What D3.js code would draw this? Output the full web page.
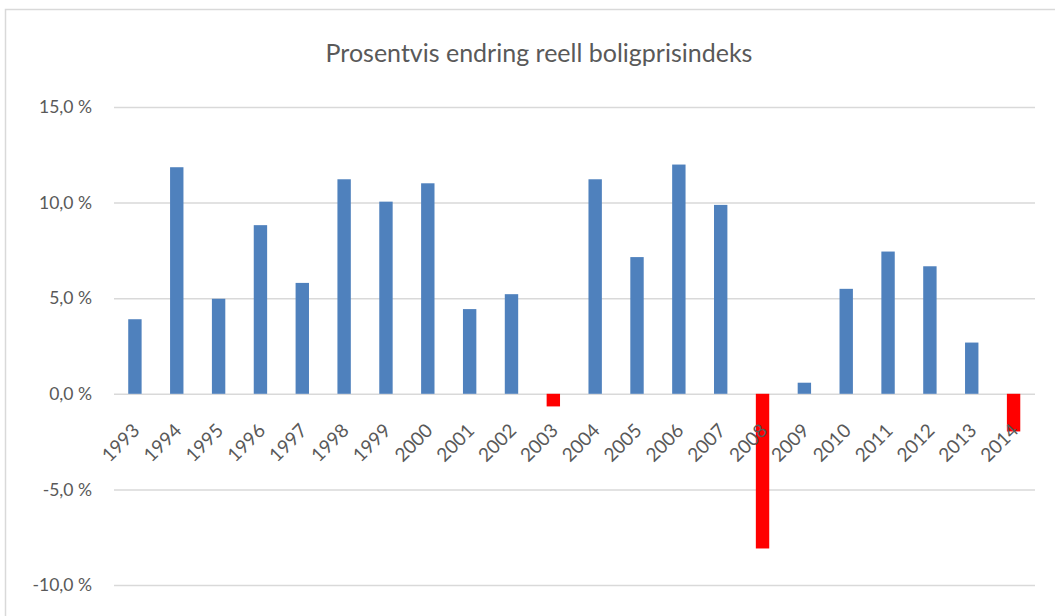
<!DOCTYPE html>
<html>
<head>
<meta charset="utf-8">
<script src="https://cdn.jsdelivr.net/npm/d3@7"></script>
<style>
  body { margin: 0; background: #fff; }
  text { font-family: Lato, "Open Sans", sans-serif; fill: #595959; }
</style>
</head>
<body>
<div id="chart"></div>
<script>
let years = ["1993", "1994", "1995", "1996", "1997", "1998", "1999", "2000", "2001", "2002", "2003",
  "2004", "2005", "2006", "2007", "2008", "2009", "2010", "2011", "2012", "2013", "2014"];
let change = [3.9, 11.85, 4.97, 8.82, 5.8, 11.22, 10.05, 11.01, 4.43, 5.21, -0.66,
  11.22, 7.15, 11.99, 9.88, -8.09, 0.58, 5.49, 7.44, 6.67, 2.68, -1.97];
let yTicks = [-10, -5, 0, 5, 10, 15];
let title = "Prosentvis endring reell boligprisindeks";

let width = 1055, height = 616;
let margin = {top: 107, right: 20, bottom: 31, left: 114};

let svg = d3.select("#chart").append("svg")
  .attr("width", width)
  .attr("height", height);

// chart border
svg.append("rect")
  .attr("x", 5.5).attr("y", 9.5)
  .attr("width", width + 10).attr("height", height + 10)
  .attr("fill", "none")
  .attr("stroke", "#d9d9d9")
  .attr("stroke-width", 1.5);

let x = d3.scaleBand()
  .domain(years)
  .range([margin.left, width - margin.right - 0.5])
  .paddingInner(0.68)
  .paddingOuter(0.34);

let y = d3.scaleLinear()
  .domain([-10, 15])
  .range([height - margin.bottom, margin.top]);

// gridlines + y labels
let yAxis = d3.axisLeft(y)
  .tickValues(yTicks)
  .tickSize(-(width - margin.right - margin.left))
  .tickPadding(22)
  .tickFormat(d => d3.format(".1f")(d).replace(".", ",").replace("\u2212", "-") + " %");

let yg = svg.append("g")
  .attr("transform", "translate(" + margin.left + ",0)")
  .call(yAxis);
yg.select(".domain").remove();
yg.selectAll(".tick line").attr("stroke", "#d9d9d9").attr("stroke-width", 1.5);
yg.selectAll(".tick text").style("font-size", "17.5px").attr("fill", "#595959");

// bars
svg.append("g").selectAll("rect")
  .data(years)
  .enter().append("rect")
  .attr("x", d => x(d))
  .attr("width", x.bandwidth())
  .attr("y", (d, i) => y(Math.max(0, change[i])))
  .attr("height", (d, i) => Math.abs(y(change[i]) - y(0)))
  .attr("fill", (d, i) => change[i] < 0 ? "#ff0000" : "#4f81bd");

// x labels
svg.append("g").selectAll("text")
  .data(years)
  .enter().append("text")
  .attr("transform", d => "translate(" + (x(d) + x.bandwidth() / 2 + 6) + "," + (y(0) + 38) + ") rotate(-45)")
  .attr("text-anchor", "end")
  .style("font-size", "19px")
  .text(d => d);

svg.append("text")
  .attr("x", 539)
  .attr("y", 62)
  .attr("text-anchor", "middle")
  .style("font-size", "25px")
  .text(title);
</script>
</body>
</html>
